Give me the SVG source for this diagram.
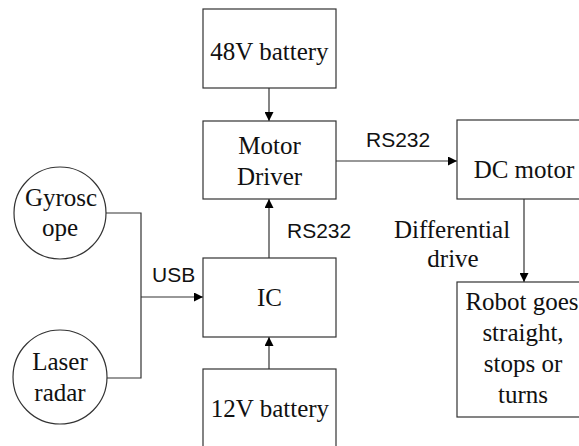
<svg xmlns="http://www.w3.org/2000/svg" width="579" height="446" viewBox="0 0 579 446">
<style>
.box{fill:#fff;stroke:#333;stroke-width:1.2}
.t{font-family:"Liberation Serif","Times New Roman",serif;font-size:25px;fill:#111;text-anchor:middle}
.s{font-family:"Liberation Sans",Arial,sans-serif;font-size:21px;fill:#111}
.ln{fill:none;stroke:#333;stroke-width:1.2}
</style>
<defs>
<marker id="ah" viewBox="0 0 10 10" refX="10" refY="5" markerWidth="10" markerHeight="9" markerUnits="userSpaceOnUse" orient="auto">
<path d="M0,0 L10,5 L0,10 z" fill="#000"/>
</marker>
</defs>
<rect width="579" height="446" fill="#fff"/>
<g id="connectors">
<line class="ln" x1="269" y1="88" x2="269" y2="121" marker-end="url(#ah)"/>
<line class="ln" x1="269" y1="258" x2="269" y2="199" marker-end="url(#ah)"/>
<line class="ln" x1="269" y1="369" x2="269" y2="337" marker-end="url(#ah)"/>
<line class="ln" x1="336" y1="161" x2="457" y2="161" marker-end="url(#ah)"/>
<line class="ln" x1="524" y1="199" x2="524" y2="282" marker-end="url(#ah)"/>
<polyline class="ln" points="106,213 141,213 141,378 107,378"/>
<line class="ln" x1="141" y1="297" x2="203" y2="297" marker-end="url(#ah)"/>
<text class="s" x="366" y="147">RS232</text>
<text class="s" x="287" y="238">RS232</text>
<text class="s" x="152" y="282">USB</text>
<text class="t" x="452" y="238">Differential</text>
<text class="t" x="453" y="267">drive</text>
</g>
<g id="battery48">
<rect class="box" x="203" y="9" width="133" height="79"/>
<text class="t" x="269.5" y="60">48V battery</text>
</g>
<g id="motorDriver">
<rect class="box" x="203" y="121" width="133" height="78"/>
<text class="t" x="269.5" y="154">Motor</text>
<text class="t" x="269.5" y="185">Driver</text>
</g>
<g id="ic">
<rect class="box" x="203" y="258" width="133" height="79"/>
<text class="t" x="269.5" y="306">IC</text>
</g>
<g id="battery12">
<rect class="box" x="203" y="369" width="133" height="100"/>
<text class="t" x="270" y="417">12V battery</text>
</g>
<g id="dcMotor">
<rect class="box" x="457" y="120" width="133" height="79"/>
<text class="t" x="524" y="178">DC motor</text>
</g>
<g id="robot">
<rect class="box" x="457" y="282" width="133" height="135"/>
<text class="t" x="522" y="310">Robot goes</text>
<text class="t" x="523" y="341">straight,</text>
<text class="t" x="523" y="372">stops or</text>
<text class="t" x="523" y="403">turns</text>
</g>
<g id="gyroscope">
<circle class="box" cx="60" cy="213" r="46"/>
<text class="t" x="61" y="206">Gyrosc</text>
<text class="t" x="60" y="236">ope</text>
</g>
<g id="laserRadar">
<circle class="box" cx="60" cy="377" r="47"/>
<text class="t" x="60" y="370">Laser</text>
<text class="t" x="60" y="401">radar</text>
</g>
</svg>
